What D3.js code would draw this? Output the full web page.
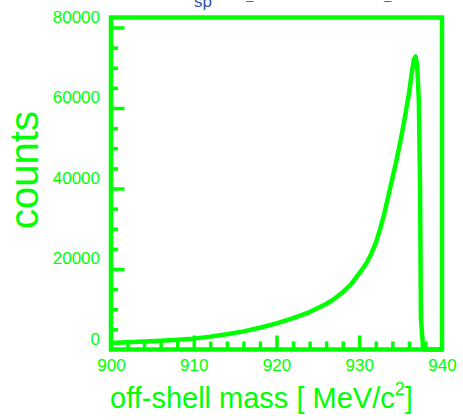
<!DOCTYPE html>
<html>
<head>
<meta charset="utf-8">
<script src="https://cdn.jsdelivr.net/npm/d3@7"></script>
<style>
  body { margin: 0; background: #fff; }
  svg { display: block; font-family: "Liberation Sans", Arial, sans-serif; }
</style>
</head>
<body>
<div id="chart"></div>
<script>
// ---- data ----
const massValues  = [900, 902, 904, 906, 908, 910, 912, 914, 916, 918, 920, 922, 924, 926, 927, 928, 929, 930, 930.5, 931, 931.5, 932, 932.5, 933, 933.5, 934, 934.5, 935, 935.5, 936, 936.3, 936.6, 936.8, 937.0, 937.2, 937.35, 937.45, 937.7, 937.9, 940];
const countValues = [1600, 1800, 2000, 2200, 2400, 2700, 3200, 3800, 4500, 5400, 6500, 7800, 9300, 11300, 12600, 14200, 16200, 18900, 20300, 21900, 24000, 26500, 29800, 33500, 38000, 42500, 47000, 52000, 57500, 63500, 68000, 72000, 72800, 70500, 62000, 40000, 8000, 800, 0, 0];
const xMajorTicks = [900, 910, 920, 930, 940];
const yMajorTicks = [0, 20000, 40000, 60000, 80000];
const xMinorTicks = d3.range(902, 940, 2).filter(v => v % 10 !== 0);
const yMinorTicks = d3.range(5000, 80000, 5000).filter(v => v % 20000 !== 0);

const width = 463, height = 420;
const green = "#00ff00";
const plotLeft = 111, plotRight = 442, plotTop = 17.5, plotBottom = 349.5;

const svg = d3.select("#chart").append("svg")
    .attr("width", width)
    .attr("height", height);

const x = d3.scaleLinear().domain([900, 940]).range([plotLeft, plotRight]);
const y = d3.scaleLinear().domain([0, 80000]).range([plotBottom, 27.5]);

// title (mostly cut off at the top, as in the reference)
svg.append("text").attr("x", 194).attr("y", 7).attr("font-size", 17)
    .attr("fill", "#2a56b0").text("sp");
svg.append("text").attr("x", 246).attr("y", -1).attr("font-size", 13)
    .attr("fill", "#2a56b0").text("_");
svg.append("text").attr("x", 384).attr("y", -1).attr("font-size", 13)
    .attr("fill", "#2a56b0").text("_");

// ---- ticks ----
function tickAxis(axis, transform) {
  const g = svg.append("g").attr("transform", transform).call(axis);
  g.select(".domain").remove();
  g.selectAll(".tick line").attr("stroke", green).attr("stroke-width", 3.5);
  g.selectAll(".tick text").remove();
  return g;
}
tickAxis(d3.axisRight(y).tickValues(yMajorTicks.filter(v => v > 0)).tickSize(13.5), `translate(${plotLeft},0)`);
tickAxis(d3.axisRight(y).tickValues(yMinorTicks).tickSize(7), `translate(${plotLeft},0)`);
tickAxis(d3.axisTop(x).tickValues(xMajorTicks.slice(1, -1)).tickSize(14), `translate(0,${plotBottom})`);
tickAxis(d3.axisTop(x).tickValues(xMinorTicks).tickSize(8), `translate(0,${plotBottom})`);

// ---- tick labels ----
const yLab = svg.append("g").attr("transform", `translate(${plotLeft - 11},-10.5)`)
    .call(d3.axisLeft(y).tickValues(yMajorTicks).tickSize(0).tickPadding(0).tickFormat(d3.format("d")));
yLab.select(".domain").remove();
yLab.selectAll("text").attr("fill", green).attr("font-size", 17)
    .attr("font-family", "Liberation Sans, Arial, sans-serif");

const xLab = svg.append("g").attr("transform", `translate(0,${plotBottom + 9})`)
    .call(d3.axisBottom(x).tickValues(xMajorTicks).tickSize(0).tickPadding(0).tickFormat(d3.format("d")));
xLab.select(".domain").remove();
xLab.selectAll("text").attr("fill", green).attr("font-size", 17)
    .attr("font-family", "Liberation Sans, Arial, sans-serif");

// ---- curve ----
const pts = massValues.map((m, i) => ({ m: m, c: countValues[i] }));
const line = d3.line().x(d => x(d.m)).y(d => y(d.c));
svg.append("path")
    .datum(pts)
    .attr("d", line)
    .attr("fill", "none")
    .attr("stroke", green)
    .attr("stroke-width", 4.5)
    .attr("stroke-linejoin", "round");

// ---- frame ----
svg.append("rect")
    .attr("x", plotLeft).attr("y", plotTop)
    .attr("width", plotRight - plotLeft).attr("height", plotBottom - plotTop)
    .attr("fill", "none").attr("stroke", green).attr("stroke-width", 4.5);

// ---- axis titles ----
svg.append("text")
    .attr("transform", "translate(38,170) rotate(-90)")
    .attr("text-anchor", "middle")
    .attr("font-size", 40)
    .attr("fill", green)
    .text("counts");

const xt = svg.append("text")
    .attr("x", 110).attr("y", 408)
    .attr("font-size", 29)
    .attr("fill", green);
xt.append("tspan").text("off-shell mass [ MeV/c");
xt.append("tspan").attr("font-size", 18).attr("dy", -13).text("2");
xt.append("tspan").attr("dy", 13).text("]");
</script>
</body>
</html>
